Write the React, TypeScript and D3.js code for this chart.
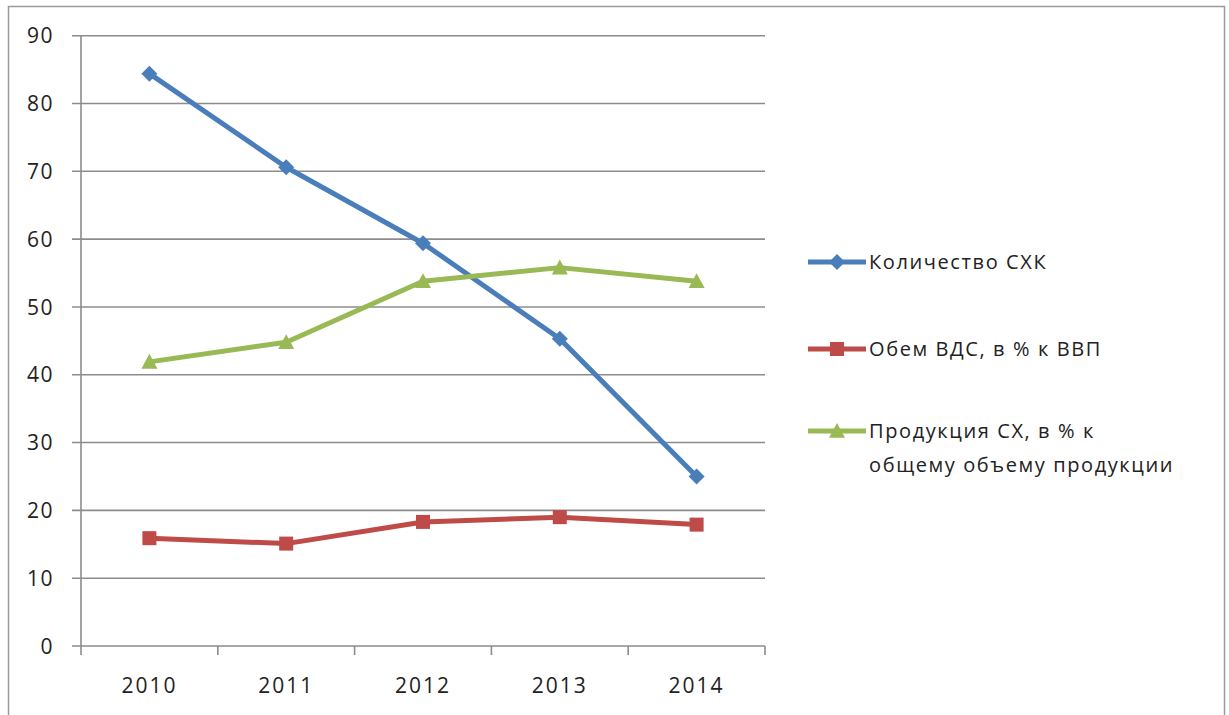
import React from "react";
import * as d3 from "d3";

const years = ["2010", "2011", "2012", "2013", "2014"];
const countSHK = [84.4, 70.6, 59.4, 45.3, 25];
const vdsShare = [15.9, 15.1, 18.3, 19.0, 17.9];
const productionShare = [41.9, 44.8, 53.8, 55.8, 53.8];
const yTicks = [0, 10, 20, 30, 40, 50, 60, 70, 80, 90];

const series = [
  { name: ["Количество СХК"], values: countSHK, color: "#4a7ebb", marker: "diamond" },
  { name: ["Обем ВДС, в % к ВВП"], values: vdsShare, color: "#be4b48", marker: "square" },
  { name: ["Продукция СХ, в % к", "общему объему продукции"], values: productionShare, color: "#98b954", marker: "triangle" },
];

const W = 1229, H = 715;
const left = 81, right = 765, top = 35.7, bottom = 646;
const font = "'Open Sans', 'Noto Sans', sans-serif";

function Marker({ type, x, y, color }: { type: string; x: number; y: number; color: string }) {
  if (type === "diamond") {
    const s = 8;
    return <path d={`M${x},${y - s}L${x + s},${y}L${x},${y + s}L${x - s},${y}Z`} fill={color} />;
  }
  if (type === "square") {
    const s = 7;
    return <rect x={x - s} y={y - s} width={2 * s} height={2 * s} fill={color} />;
  }
  const s = 8;
  return <path d={`M${x},${y - s}L${x + s},${y + s * 0.85}L${x - s},${y + s * 0.85}Z`} fill={color} />;
}

export default function App() {
  const x = d3.scaleBand<string>().domain(years).range([left, right]);
  const y = d3.scaleLinear().domain([0, 90]).range([bottom, top]);
  const cx = (d: string) => (x(d) as number) + x.bandwidth() / 2;
  const line = d3.line<number>().x((_, i) => cx(years[i])).y((v) => y(v));
  const legendY = [262, 349, 431];

  return (
    <svg width={W} height={H} style={{ position: "absolute", left: 0, top: 0 }}>
      <rect x={0} y={0} width={W} height={H} fill="#fff" />
      <rect x={8.5} y={6.5} width={1216} height={720} fill="#fff" stroke="#9a9a9a" strokeWidth={1.5} />
      {yTicks.map((t) => (
        <g key={t}>
          <line x1={72} x2={right} y1={y(t)} y2={y(t)} stroke="#8c8c8c" strokeWidth={1.6} />
          <text x={54} y={y(t)} dy="0.36em" textAnchor="end" fontFamily={font} fontSize={21} letterSpacing={1.5} fill="#222">{t}</text>
        </g>
      ))}
      <line x1={left} x2={left} y1={top} y2={bottom} stroke="#8c8c8c" strokeWidth={1.6} />
      {[...years.map((d) => x(d) as number), right].map((p, i) => (
        <line key={i} x1={p} x2={p} y1={bottom} y2={bottom + 9} stroke="#8c8c8c" strokeWidth={1.6} />
      ))}
      {years.map((d) => (
        <text key={d} x={cx(d)} y={693} textAnchor="middle" fontFamily={font} fontSize={21} letterSpacing={2} fill="#222">{d}</text>
      ))}
      {series.map((s) => (
        <g key={s.color}>
          <path d={line(s.values) || ""} fill="none" stroke={s.color} strokeWidth={5} strokeLinejoin="round" />
          {s.values.map((v, i) => (
            <Marker key={i} type={s.marker} x={cx(years[i])} y={y(v)} color={s.color} />
          ))}
        </g>
      ))}
      {series.map((s, i) => (
        <g key={"lg" + i}>
          <line x1={808} x2={866} y1={legendY[i]} y2={legendY[i]} stroke={s.color} strokeWidth={5} />
          <Marker type={s.marker} x={837} y={legendY[i]} color={s.color} />
          {s.name.map((n, j) => (
            <text key={j} x={869} y={legendY[i] + j * 34} dy="0.36em" fontFamily={font} fontSize={20} letterSpacing={1.6} fill="#222">{n}</text>
          ))}
        </g>
      ))}
    </svg>
  );
}
